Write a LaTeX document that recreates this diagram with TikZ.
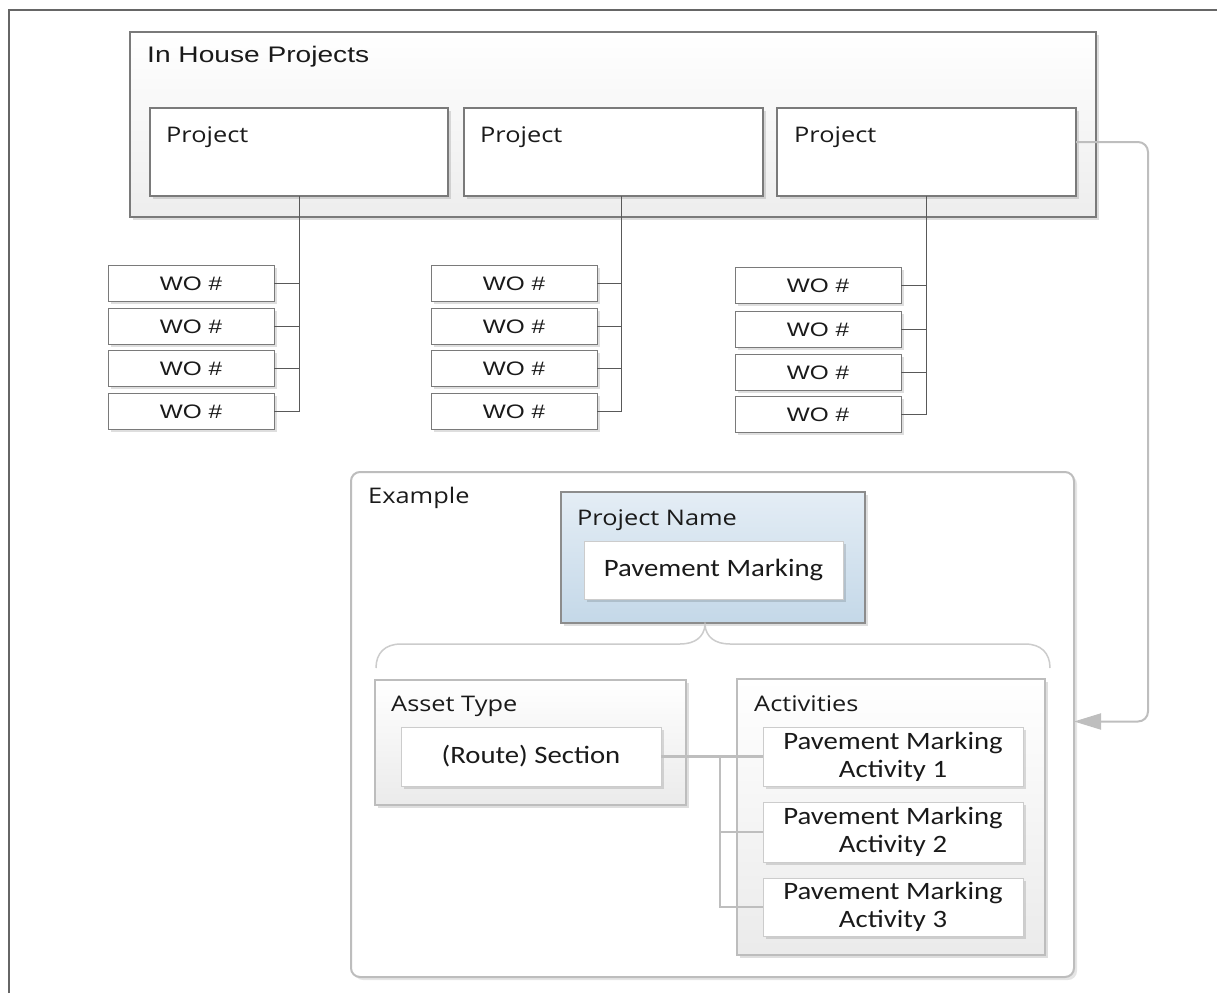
\documentclass[tikz,border=0pt]{standalone}
\usepackage{fontspec}
\setmainfont[FakeStretch=1.15]{Carlito}
\newfontfamily\headfont[FakeStretch=1.18]{Open Sans}
\newfontfamily\arialfont[FakeStretch=1.25]{Liberation Sans}
\usetikzlibrary{fit,shadows,arrows.meta,calc}

\definecolor{txt}{HTML}{1A1A1A}
\definecolor{edgedark}{HTML}{7A7A7A}
\definecolor{edgelight}{HTML}{BDBDBD}
\definecolor{conn}{HTML}{BEBEBE}
\definecolor{bluetop}{HTML}{E4EDF5}
\definecolor{bluebot}{HTML}{C4D8E8}

\begin{document}
\begin{tikzpicture}[x=1pt,y=-1pt,
  every node/.style={text=txt},
  shadowed/.style={drop shadow={shadow xshift=3pt,shadow yshift=-3pt,opacity=0.13,fill=black}},
  fitbox/.style={rectangle,inner sep=0pt,outer sep=0pt},
  container/.style={fitbox,draw=edgedark,line width=1.2pt,top color=white,bottom color=black!7,shadowed},
  projbox/.style={fitbox,draw=edgedark,line width=1.2pt,fill=white,shadowed},
  wobox/.style={fitbox,draw=edgedark,line width=1pt,fill=white,shadowed},
  wotext/.style={inner sep=0pt,font=\arialfont\fontsize{19.5}{22}\selectfont},
  examplebox/.style={fitbox,draw=edgelight,line width=2pt,fill=white,rounded corners=9pt,
    drop shadow={shadow xshift=3pt,shadow yshift=-3pt,opacity=0.10,fill=black}},
  namebox/.style={fitbox,draw=black!45,line width=1.2pt,top color=bluetop,bottom color=bluebot,shadowed},
  groupbox/.style={fitbox,draw=edgelight,line width=2pt,top color=white,bottom color=black!8,shadowed},
  itembox/.style={fitbox,draw=black!20,line width=1pt,fill=white,shadowed},
  itemtext/.style={inner sep=0pt,align=center,font=\fontsize{25}{28}\selectfont},
  heading/.style={anchor=base west,inner sep=0pt,font=\headfont\fontsize{21.5}{25}\selectfont},
  frame/.style={draw=black!60,line width=1.5pt},
  woline/.style={draw=black!65,line width=1pt},
  greyline/.style={draw=conn,line width=2.5pt},
  bracket/.style={draw=black!20,line width=1.5pt},
  linkarrow/.style={draw=conn,line width=2pt,rounded corners=10pt,
    -{Triangle[length=27pt,width=16pt,fill=conn]}}
]
\useasboundingbox (0,0) rectangle (1217,993);

% page frame
\draw[frame] (9,993) -- (9,10) -- (1217,10);

% in-house projects container
\node[container,fit={(130,32)(1096,217)}] (house) {};
\node[anchor=base west,inner sep=0pt,font=\arialfont\fontsize{22.5}{26}\selectfont]
  (houset) at (147,62) {In House Projects};

% projects
\node[projbox,fit={(150,108)(448,196)}] (p1) {};
\node[projbox,fit={(464,108)(763,196)}] (p2) {};
\node[projbox,fit={(777,108)(1076,196)}] (p3) {};
\node[heading] (p1t) at (166,142) {Project};
\node[heading] (p2t) at (480,142) {Project};
\node[heading] (p3t) at (794,142) {Project};

% work orders
\foreach \g/\xl/\xr/\ya/\yb/\yc/\yd in {1/108/274/265/308/350/393, 2/431/597/265/308/350/393, 3/735/901/267/311/354/396}{
  \node[wobox,fit={(\xl,\ya)(\xr,\ya+36)}] (w\g1) {};
  \node[wobox,fit={(\xl,\yb)(\xr,\yb+36)}] (w\g2) {};
  \node[wobox,fit={(\xl,\yc)(\xr,\yc+36)}] (w\g3) {};
  \node[wobox,fit={(\xl,\yd)(\xr,\yd+36)}] (w\g4) {};
  \foreach \r in {1,2,3,4}{
    \node[wotext] (w\g\r t) at ([yshift=-0.5pt]w\g\r.center) {WO \#};
  }
}

% project to work order trees
\coordinate (b1) at (p1.south);
\coordinate (b2) at ([xshift=7.5pt]p2.south);
\coordinate (b3) at (p3.south);
\foreach \g in {1,2,3}{
  \draw[woline] (b\g) |- (w\g4.east);
  \foreach \r in {1,2,3}{
    \draw[woline] (w\g\r.east) -- (w\g\r.east -| b\g);
  }
}

% example panel
\node[examplebox,fit={(351,472)(1074,977)}] (ex) {};
\node[heading] (ext) at (368,503) {Example};

\node[namebox,fit={(561,492)(865,623)}] (pn) {};
\node[heading] (pnt) at (577,525) {Project Name};
\node[itembox,fit={(584,541)(843,599)}] (pm) {};
\node[itemtext] (pmt) at (pm.center) {Pavement Marking};

% brace under the project name
\draw[bracket] (376,668) .. controls (376,653) and (385,644) .. (401,644)
  -- (680,644) .. controls (695,644) and (704,637) .. (705,625)
  .. controls (706,637) and (715,644) .. (730,644)
  -- (1025,644) .. controls (1041,644) and (1050,653) .. (1050,668);

\node[groupbox,fit={(375,680)(686,805)}] (asset) {};
\node[heading] (assett) at (391,711) {Asset Type};
\node[itembox,fit={(401,727)(661,786)}] (rs) {};
\node[itemtext] (rst) at (rs.center) {(Route) Section};

\node[groupbox,fit={(737,679)(1045,955)}] (acts) {};
\node[heading] (actst) at (754,711) {Activities};
\node[itembox,fit={(763,727)(1023,786)}] (a1) {};
\node[itembox,fit={(763,802)(1023,862)}] (a2) {};
\node[itembox,fit={(763,878)(1023,936)}] (a3) {};
\node[itemtext] (a1t) at (a1.center) {Pavement Marking\\Activity 1};
\node[itemtext] (a2t) at (a2.center) {Pavement Marking\\Activity 2};
\node[itemtext] (a3t) at (a3.center) {Pavement Marking\\Activity 3};

% section to activities
\coordinate (bus) at ($(rs.east)!0.58!(a1.west)$);
\draw[greyline] (rs.east) -- (a1.west);
\draw[greyline] (bus) |- (a2.west);
\draw[greyline] (bus) |- (a3.west);

% link from the third project to the example
\draw[linkarrow] ([yshift=10pt]p3.east) -- ++(72,0) |- ([yshift=3pt]ex.east);
\end{tikzpicture}
\end{document}
